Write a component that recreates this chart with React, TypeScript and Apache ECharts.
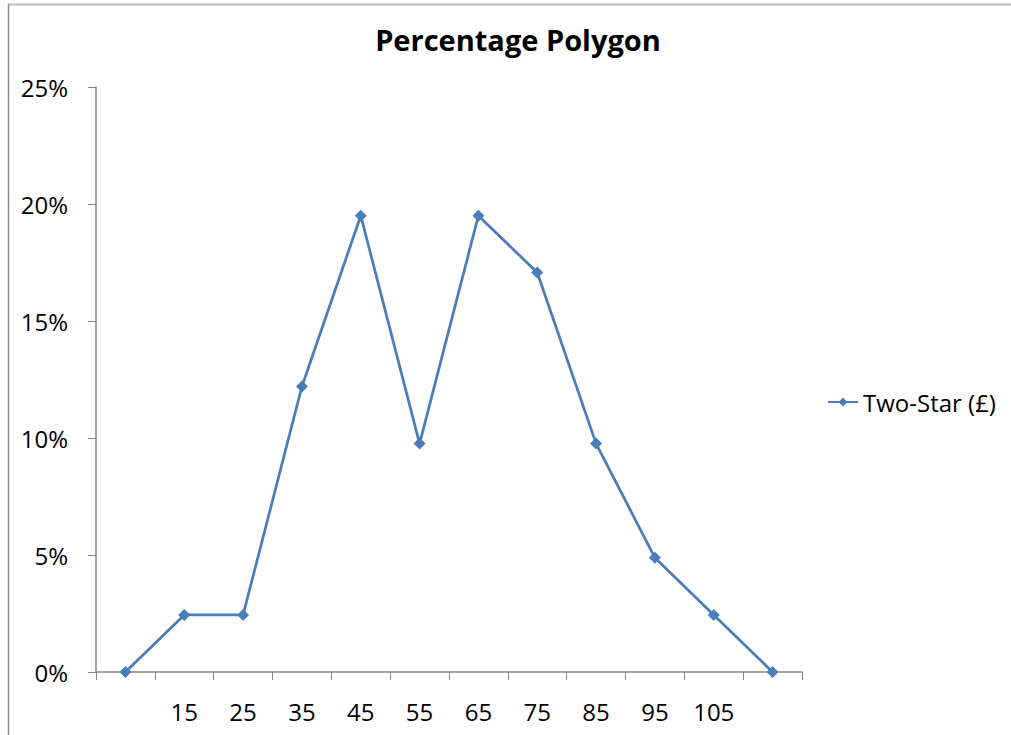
import React, { useEffect, useRef } from "react";
import * as echarts from "echarts";

const categories = ["", "15", "25", "35", "45", "55", "65", "75", "85", "95", "105", ""];
const twoStarPct = [0, 0.0244, 0.0244, 0.122, 0.195, 0.0976, 0.195, 0.1707, 0.0976, 0.0488, 0.0244, 0];
const seriesName = "Two-Star (£)";
const titleText = "Percentage Polygon";

const FONT = "'Open Sans', 'Noto Sans', sans-serif";

export default function App() {
  const ref = useRef<HTMLDivElement>(null);
  useEffect(() => {
    if (!ref.current) return;
    const chart = echarts.init(ref.current, null, { renderer: "svg" });
    chart.setOption({
      animation: false,
      backgroundColor: "#ffffff",
      title: {
        text: titleText,
        left: 513,
        top: 20,
        textAlign: "center",
        textStyle: { fontFamily: FONT, fontSize: 29, fontWeight: "bold", color: "#000" },
      },
      graphic: [
        { type: "line", shape: { x1: 8, y1: 4.5, x2: 1011, y2: 4.5 }, style: { stroke: "#bcbcbc", lineWidth: 2 } },
        { type: "line", shape: { x1: 8.5, y1: 4, x2: 8.5, y2: 735 }, style: { stroke: "#8a8a8a", lineWidth: 1.5 } },
      ],
      legend: {
        left: 822,
        top: 385,
        orient: "vertical",
        itemWidth: 30,
        itemHeight: 11,
        itemGap: 6,
        textStyle: { fontFamily: FONT, fontSize: 24, color: "#000" },
        data: [seriesName],
      },
      grid: { left: 96, right: 209, top: 87, bottom: 63, containLabel: false },
      xAxis: {
        type: "category",
        data: categories,
        boundaryGap: true,
        axisLine: { show: true, lineStyle: { color: "#868686", width: 1.5 } },
        axisTick: { show: true, length: 8, alignWithLabel: false, interval: 0, lineStyle: { color: "#868686" } },
        axisLabel: { interval: 0, margin: 27, fontFamily: FONT, fontSize: 24, color: "#000" },
        splitLine: { show: false },
      },
      yAxis: {
        type: "value",
        min: 0,
        max: 0.25,
        interval: 0.05,
        axisLine: { show: true, lineStyle: { color: "#868686", width: 1.5 } },
        axisTick: { show: true, length: 8, lineStyle: { color: "#868686" } },
        axisLabel: {
          margin: 28,
          fontFamily: FONT,
          fontSize: 24,
          color: "#000",
          formatter: (v: number) => Math.round(v * 100) + "%",
        },
        splitLine: { show: false },
      },
      series: [
        {
          name: seriesName,
          type: "line",
          data: twoStarPct,
          symbol: "diamond",
          symbolSize: 12,
          lineStyle: { color: "#4a7ebb", width: 2.75 },
          itemStyle: { color: "#4a7ebb" },
        },
      ],
    });
    return () => chart.dispose();
  }, []);
  return (
    <div
      ref={ref}
      style={{ position: "fixed", left: 0, top: 0, width: 1011, height: 735, background: "#fff" }}
    />
  );
}
